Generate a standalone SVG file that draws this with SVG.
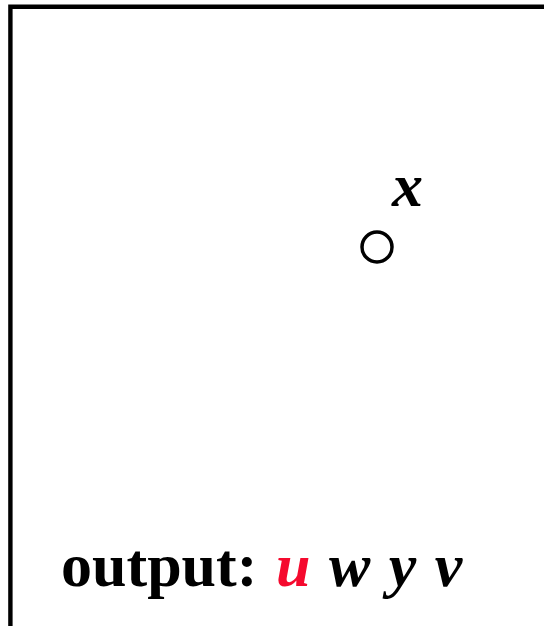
<svg xmlns="http://www.w3.org/2000/svg" width="544" height="626" viewBox="0 0 544 626">
<style>
.lbl{font-family:"Liberation Serif","Times New Roman",serif;font-weight:bold;font-size:62px;fill:#000}
.it{font-style:italic}
.red{fill:#f50a2e}
</style>
<rect width="544" height="626" fill="#fff"/>
<path d="M10.4,626 V6.8 H546" fill="none" stroke="#000" stroke-width="4.4"/>
<g id="node-x">
<circle cx="377" cy="247" r="15" fill="#fff" stroke="#000" stroke-width="3.5"/>
<text class="lbl it" x="392" y="206">x</text>
</g>
<g id="connectors"></g>
<g id="output">
<text class="lbl" x="61" y="586" word-spacing="3">output: <tspan class="it red">u</tspan><tspan class="it"> w y v</tspan></text>
</g>
</svg>
